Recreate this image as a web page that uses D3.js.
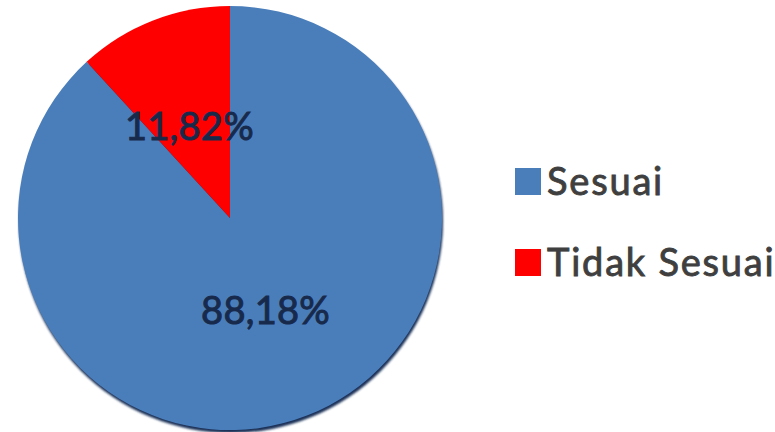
<!DOCTYPE html>
<html>
<head>
<meta charset="utf-8">
<script src="https://cdn.jsdelivr.net/npm/d3@7"></script>
<style>
  html, body { margin: 0; padding: 0; background: #ffffff; }
  svg { display: block; }
</style>
</head>
<body>
<svg id="chart" width="775" height="432"></svg>
<script>
const categories = ["Sesuai", "Tidak Sesuai"];
const values = [88.18, 11.82];
const labels = ["88,18%", "11,82%"];
const colors = ["#4a7ebb", "#fe0000"];

const svg = d3.select("#chart");
const cx = 230, cy = 218, r = 212;

const defs = svg.append("defs");
const blur = defs.append("filter").attr("id", "soft").attr("x", "-10%").attr("y", "-10%").attr("width", "120%").attr("height", "120%");
blur.append("feGaussianBlur").attr("stdDeviation", 1.3);

const g = svg.append("g").attr("transform", `translate(${cx},${cy})`);

// bottom bevel shadow
g.append("circle")
  .attr("cx", 1).attr("cy", 3).attr("r", r)
  .attr("fill", "#1c3258")
  .attr("filter", "url(#soft)");

const pie = d3.pie().sort(null).value(d => d);
const arcs = pie(values);
const arc = d3.arc().innerRadius(0).outerRadius(r);
const labelArc = d3.arc().innerRadius(98).outerRadius(98);

g.selectAll("path.slice")
  .data(arcs)
  .join("path")
  .attr("class", "slice")
  .attr("d", arc)
  .attr("fill", (d, i) => colors[i]);

g.selectAll("text.lbl")
  .data(arcs)
  .join("text")
  .attr("class", "lbl")
  .attr("transform", (d, i) => {
    const c = labelArc.centroid(d);
    return `translate(${c[0] - (i === 1 ? 5 : 0)},${c[1] - (i === 1 ? 2 : 0)})`;
  })
  .attr("text-anchor", "middle")
  .attr("dominant-baseline", "central")
  .attr("font-family", "Lato, 'Open Sans', sans-serif")
  .attr("font-size", 38)
  .attr("fill", "#182a4c")
  .attr("stroke", "#182a4c")
  .attr("stroke-width", 1)
  .attr("letter-spacing", 0.3)
  .text((d, i) => labels[i]);

// legend
const legend = svg.append("g").attr("transform", "translate(515,168)");
const item = legend.selectAll("g")
  .data(categories)
  .join("g")
  .attr("transform", (d, i) => `translate(0,${i * 81})`);
item.append("rect")
  .attr("x", 0).attr("y", 0)
  .attr("width", 26).attr("height", 27)
  .attr("fill", (d, i) => colors[i]);
item.append("text")
  .attr("x", 32).attr("y", 27)
  .attr("font-family", "Lato, 'Open Sans', sans-serif")
  .attr("font-size", 38)
  .attr("letter-spacing", 1.8)
  .attr("fill", "#3f3f3f")
  .attr("stroke", "#3f3f3f")
  .attr("stroke-width", 0.9)
  .text(d => d);
</script>
</body>
</html>
